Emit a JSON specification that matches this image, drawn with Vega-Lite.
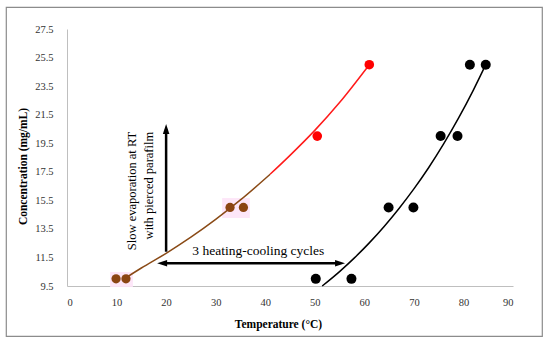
{
  "$schema": "https://vega.github.io/schema/vega-lite/v6.json",
  "width": 536,
  "height": 329,
  "autosize": {"type": "none"},
  "padding": {"left": 6, "top": 7, "right": 8, "bottom": 8},
  "background": "white",
  "config": {
    "view": {"stroke": "#8c8c8c", "strokeWidth": 1.2},
    "font": "Liberation Serif"
  },
  "datasets": {
    "highlights": [
      {"x": 8.7, "x2": 13.3, "y": 9.43, "y2": 10.48},
      {"x": 31.3, "x2": 36.9, "y": 14.26, "y2": 15.66}
    ],
    "curves": [
      {"x": 12, "y": 10.1, "seg": "brown"},
      {"x": 15, "y": 10.76, "seg": "brown"},
      {"x": 20, "y": 11.79, "seg": "brown"},
      {"x": 25, "y": 12.92, "seg": "brown"},
      {"x": 30, "y": 14.17, "seg": "brown"},
      {"x": 35, "y": 15.53, "seg": "brown"},
      {"x": 41, "y": 17.33, "seg": "brown"},
      {"x": 41, "y": 17.33, "seg": "red"},
      {"x": 45, "y": 18.65, "seg": "red"},
      {"x": 50, "y": 20.4, "seg": "red"},
      {"x": 55, "y": 22.35, "seg": "red"},
      {"x": 61, "y": 25.0, "seg": "red"},
      {"x": 51.5, "y": 9.5, "seg": "black"},
      {"x": 55, "y": 10.51, "seg": "black"},
      {"x": 58, "y": 11.47, "seg": "black"},
      {"x": 61, "y": 12.52, "seg": "black"},
      {"x": 64, "y": 13.67, "seg": "black"},
      {"x": 67, "y": 14.93, "seg": "black"},
      {"x": 70, "y": 16.3, "seg": "black"},
      {"x": 73, "y": 17.8, "seg": "black"},
      {"x": 76, "y": 19.45, "seg": "black"},
      {"x": 79, "y": 21.25, "seg": "black"},
      {"x": 82, "y": 23.22, "seg": "black"},
      {"x": 84.5, "y": 25.0, "seg": "black"}
    ],
    "points": [
      {"x": 9.9, "y": 10, "grp": "brown"},
      {"x": 11.9, "y": 10, "grp": "brown"},
      {"x": 32.9, "y": 15, "grp": "brown"},
      {"x": 35.6, "y": 15, "grp": "brown"},
      {"x": 50.5, "y": 20, "grp": "red"},
      {"x": 61.0, "y": 25, "grp": "red"},
      {"x": 50.2, "y": 10, "grp": "black"},
      {"x": 57.4, "y": 10, "grp": "black"},
      {"x": 64.9, "y": 15, "grp": "black"},
      {"x": 69.9, "y": 15, "grp": "black"},
      {"x": 75.4, "y": 20, "grp": "black"},
      {"x": 78.8, "y": 20, "grp": "black"},
      {"x": 81.3, "y": 25, "grp": "black"},
      {"x": 84.5, "y": 25, "grp": "black"}
    ],
    "arrows": [
      {"x": 20, "x2": 20, "y": 11.9, "y2": 20.5},
      {"x": 19.3, "x2": 55.0, "y": 11.1, "y2": 11.1}
    ],
    "heads": [
      {"x": 20, "y": 20.49, "dir": "up"},
      {"x": 19.2, "y": 11.1, "dir": "left"},
      {"x": 55.1, "y": 11.1, "dir": "right"}
    ],
    "hlabel": [
      {"x": 38.6, "y": 11.65, "label": "3 heating-cooling cycles"}
    ],
    "vlabel": [
      {"x": 13.1, "y": 20.3, "label": "Slow evaporation at RT"},
      {"x": 16.5, "y": 20.3, "label": "with pierced parafilm"}
    ]
  },
  "encoding": {
    "x": {
      "field": "x",
      "type": "quantitative",
      "scale": {"domain": [0, 90], "range": [61, 507], "nice": false, "zero": false},
      "axis": {
        "title": "Temperature (°C)",
        "values": [0, 10, 20, 30, 40, 50, 60, 70, 80, 90],
        "offset": -50,
        "grid": false,
        "ticks": false,
        "tickSize": 0,
        "domainColor": "#bfbfbf",
        "labelFont": "Liberation Serif",
        "labelFontSize": 10.5,
        "labelColor": "#333333",
        "labelPadding": 11,
        "titleFont": "Liberation Serif",
        "titleFontSize": 11.5,
        "titleFontWeight": "bold",
        "titleColor": "#000000",
        "titleX": 272,
        "titleY": 32,
        "titleBaseline": "top"
      }
    },
    "y": {
      "field": "y",
      "type": "quantitative",
      "scale": {"domain": [9.5, 27.5], "range": [279, 22], "nice": false, "zero": false},
      "axis": {
        "title": "Concentration (mg/mL)",
        "values": [9.5, 11.5, 13.5, 15.5, 17.5, 19.5, 21.5, 23.5, 25.5, 27.5],
        "format": ".1f",
        "offset": -61,
        "grid": false,
        "ticks": false,
        "tickSize": 0,
        "domainColor": "#bfbfbf",
        "labelFont": "Liberation Serif",
        "labelFontSize": 10.5,
        "labelColor": "#333333",
        "labelPadding": 14,
        "titleFont": "Liberation Serif",
        "titleFontSize": 11.5,
        "titleFontWeight": "bold",
        "titleColor": "#000000",
        "titleAngle": -90,
        "titleX": -44,
        "titleY": 159,
        "titleBaseline": "middle",
        "titleAlign": "center"
      }
    }
  },
  "layer": [
    {
      "data": {"name": "highlights"},
      "mark": {"type": "rect", "color": "#fde3f7", "opacity": 0.9},
      "encoding": {"x2": {"field": "x2"}, "y2": {"field": "y2"}}
    },
    {
      "data": {"name": "curves"},
      "mark": {"type": "line", "strokeWidth": 1.5, "interpolate": "monotone"},
      "encoding": {
        "color": {
          "field": "seg",
          "type": "nominal",
          "scale": {"domain": ["brown", "red", "black"], "range": ["#8a4a16", "#ff1a1a", "#000000"]},
          "legend": null
        }
      }
    },
    {
      "data": {"name": "points"},
      "mark": {"type": "point", "filled": true, "opacity": 1, "shape": "circle"},
      "encoding": {
        "fill": {
          "field": "grp",
          "type": "nominal",
          "scale": {"domain": ["brown", "red", "black"], "range": ["#8b4512", "#ff0000", "#000000"]},
          "legend": null
        },
        "size": {
          "field": "grp",
          "type": "nominal",
          "scale": {"domain": ["brown", "red", "black"], "range": [85, 100, 90]},
          "legend": null
        }
      }
    },
    {
      "data": {"name": "arrows"},
      "mark": {"type": "rule", "color": "#000000", "strokeWidth": 2.5},
      "encoding": {"x2": {"field": "x2"}, "y2": {"field": "y2"}}
    },
    {
      "data": {"name": "heads"},
      "mark": {"type": "point", "filled": true, "opacity": 1, "color": "#000000", "size": 100},
      "encoding": {
        "shape": {
          "field": "dir",
          "type": "nominal",
          "scale": {
            "domain": ["up", "left", "right"],
            "range": ["M0,-1L0.65,1L-0.65,1Z", "M-1,0L1,-0.65L1,0.65Z", "M1,0L-1,-0.65L-1,0.65Z"]
          },
          "legend": null
        }
      }
    },
    {
      "data": {"name": "hlabel"},
      "mark": {"type": "text", "font": "Liberation Serif", "fontSize": 13.5, "align": "center", "baseline": "alphabetic", "color": "#000000"},
      "encoding": {"text": {"field": "label"}}
    },
    {
      "data": {"name": "vlabel"},
      "mark": {"type": "text", "font": "Liberation Serif", "fontSize": 12.5, "align": "right", "baseline": "middle", "angle": 270, "color": "#000000"},
      "encoding": {"text": {"field": "label"}}
    }
  ]
}
